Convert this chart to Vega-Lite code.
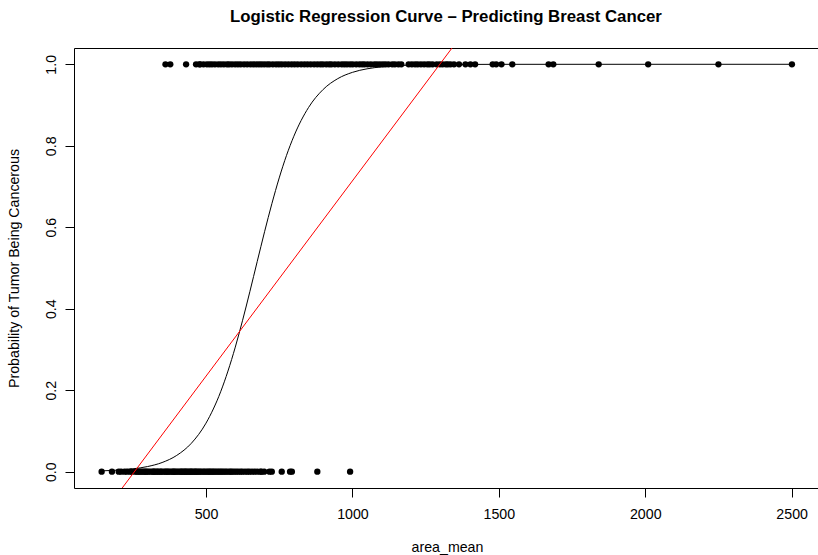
{
  "$schema": "https://vega.github.io/schema/vega-lite/v6.json",
  "width": 744,
  "height": 440,
  "autosize": "none",
  "padding": {"left": 74, "top": 48, "right": 0, "bottom": 67},
  "background": "white",
  "config": {
    "font": "Liberation Sans",
    "view": {"stroke": "black", "strokeWidth": 1}
  },
  "title": {
    "text": "Logistic Regression Curve – Predicting Breast Cancer",
    "fontSize": 16.8,
    "fontWeight": "bold",
    "color": "black",
    "anchor": "middle",
    "frame": "group",
    "baseline": "alphabetic",
    "offset": 9
  },
  "datasets": {
    "pts": [
      {"area_mean": 143.5, "p": 0}, {"area_mean": 178.8, "p": 0}, {"area_mean": 201.9, "p": 0},
      {"area_mean": 210.2, "p": 0}, {"area_mean": 221.8, "p": 0}, {"area_mean": 230.3, "p": 0}, {"area_mean": 241.0, "p": 0},
      {"area_mean": 246.3, "p": 0}, {"area_mean": 257.8, "p": 0}, {"area_mean": 264.0, "p": 0}, {"area_mean": 268.8, "p": 0},
      {"area_mean": 273.9, "p": 0}, {"area_mean": 278.6, "p": 0}, {"area_mean": 284.9, "p": 0}, {"area_mean": 289.7, "p": 0},
      {"area_mean": 294.5, "p": 0}, {"area_mean": 298.3, "p": 0}, {"area_mean": 304.1, "p": 0}, {"area_mean": 310.8, "p": 0},
      {"area_mean": 317.5, "p": 0}, {"area_mean": 321.4, "p": 0}, {"area_mean": 324.2, "p": 0}, {"area_mean": 329.6, "p": 0},
      {"area_mean": 334.2, "p": 0}, {"area_mean": 338.3, "p": 0}, {"area_mean": 344.9, "p": 0}, {"area_mean": 347.0, "p": 0},
      {"area_mean": 353.6, "p": 0}, {"area_mean": 359.9, "p": 0}, {"area_mean": 363.7, "p": 0}, {"area_mean": 368.5, "p": 0},
      {"area_mean": 372.7, "p": 0}, {"area_mean": 378.4, "p": 0}, {"area_mean": 384.8, "p": 0}, {"area_mean": 388.1, "p": 0},
      {"area_mean": 392.0, "p": 0}, {"area_mean": 396.6, "p": 0}, {"area_mean": 401.5, "p": 0}, {"area_mean": 407.4, "p": 0},
      {"area_mean": 412.6, "p": 0}, {"area_mean": 416.2, "p": 0}, {"area_mean": 420.3, "p": 0}, {"area_mean": 424.8, "p": 0},
      {"area_mean": 428.9, "p": 0}, {"area_mean": 432.0, "p": 0}, {"area_mean": 436.6, "p": 0}, {"area_mean": 441.3, "p": 0},
      {"area_mean": 446.0, "p": 0}, {"area_mean": 449.3, "p": 0}, {"area_mean": 453.1, "p": 0}, {"area_mean": 458.7, "p": 0},
      {"area_mean": 462.9, "p": 0}, {"area_mean": 466.1, "p": 0}, {"area_mean": 470.9, "p": 0}, {"area_mean": 475.9, "p": 0},
      {"area_mean": 480.4, "p": 0}, {"area_mean": 485.8, "p": 0}, {"area_mean": 491.9, "p": 0}, {"area_mean": 496.4, "p": 0},
      {"area_mean": 502.5, "p": 0}, {"area_mean": 507.2, "p": 0}, {"area_mean": 512.2, "p": 0}, {"area_mean": 516.4, "p": 0},
      {"area_mean": 521.5, "p": 0}, {"area_mean": 526.4, "p": 0}, {"area_mean": 531.5, "p": 0}, {"area_mean": 537.3, "p": 0},
      {"area_mean": 542.9, "p": 0}, {"area_mean": 548.2, "p": 0}, {"area_mean": 553.5, "p": 0}, {"area_mean": 559.2, "p": 0},
      {"area_mean": 565.4, "p": 0}, {"area_mean": 571.1, "p": 0}, {"area_mean": 578.3, "p": 0}, {"area_mean": 584.1, "p": 0},
      {"area_mean": 588.9, "p": 0}, {"area_mean": 595.9, "p": 0}, {"area_mean": 602.9, "p": 0}, {"area_mean": 609.9, "p": 0},
      {"area_mean": 617.8, "p": 0}, {"area_mean": 624.1, "p": 0}, {"area_mean": 633.0, "p": 0}, {"area_mean": 641.2, "p": 0},
      {"area_mean": 648.2, "p": 0}, {"area_mean": 657.1, "p": 0}, {"area_mean": 666.0, "p": 0}, {"area_mean": 674.5, "p": 0},
      {"area_mean": 685.0, "p": 0}, {"area_mean": 689.5, "p": 0}, {"area_mean": 698.8, "p": 0}, {"area_mean": 716.6, "p": 0},
      {"area_mean": 724.7, "p": 0}, {"area_mean": 758.6, "p": 0}, {"area_mean": 787.0, "p": 0}, {"area_mean": 793.2, "p": 0},
      {"area_mean": 880.2, "p": 0}, {"area_mean": 992.1, "p": 0},
      {"area_mean": 361.6, "p": 1}, {"area_mean": 378.0, "p": 1}, {"area_mean": 432.0, "p": 1}, {"area_mean": 466.0, "p": 1},
      {"area_mean": 477.1, "p": 1}, {"area_mean": 480.4, "p": 1}, {"area_mean": 491.5, "p": 1}, {"area_mean": 503.2, "p": 1},
      {"area_mean": 512.0, "p": 1}, {"area_mean": 520.5, "p": 1}, {"area_mean": 530.6, "p": 1}, {"area_mean": 541.8, "p": 1},
      {"area_mean": 551.1, "p": 1}, {"area_mean": 561.0, "p": 1}, {"area_mean": 571.8, "p": 1}, {"area_mean": 578.9, "p": 1},
      {"area_mean": 588.7, "p": 1}, {"area_mean": 599.5, "p": 1}, {"area_mean": 609.1, "p": 1}, {"area_mean": 618.4, "p": 1},
      {"area_mean": 629.9, "p": 1}, {"area_mean": 640.7, "p": 1}, {"area_mean": 651.9, "p": 1}, {"area_mean": 661.6, "p": 1},
      {"area_mean": 671.4, "p": 1}, {"area_mean": 680.7, "p": 1}, {"area_mean": 689.4, "p": 1}, {"area_mean": 698.8, "p": 1},
      {"area_mean": 708.8, "p": 1}, {"area_mean": 716.9, "p": 1}, {"area_mean": 728.2, "p": 1}, {"area_mean": 739.3, "p": 1},
      {"area_mean": 748.9, "p": 1}, {"area_mean": 758.6, "p": 1}, {"area_mean": 769.9, "p": 1}, {"area_mean": 781.0, "p": 1},
      {"area_mean": 792.3, "p": 1}, {"area_mean": 802.5, "p": 1}, {"area_mean": 813.0, "p": 1}, {"area_mean": 824.8, "p": 1},
      {"area_mean": 835.9, "p": 1}, {"area_mean": 846.5, "p": 1}, {"area_mean": 857.6, "p": 1}, {"area_mean": 869.3, "p": 1},
      {"area_mean": 880.2, "p": 1}, {"area_mean": 890.6, "p": 1}, {"area_mean": 899.3, "p": 1}, {"area_mean": 910.7, "p": 1},
      {"area_mean": 920.6, "p": 1}, {"area_mean": 928.3, "p": 1}, {"area_mean": 940.0, "p": 1}, {"area_mean": 951.6, "p": 1},
      {"area_mean": 963.7, "p": 1}, {"area_mean": 972.6, "p": 1}, {"area_mean": 981.6, "p": 1}, {"area_mean": 992.0, "p": 1},
      {"area_mean": 1001.0, "p": 1}, {"area_mean": 1013.0, "p": 1}, {"area_mean": 1024.0, "p": 1}, {"area_mean": 1033.0, "p": 1},
      {"area_mean": 1041.0, "p": 1}, {"area_mean": 1052.0, "p": 1}, {"area_mean": 1063.0, "p": 1}, {"area_mean": 1075.0, "p": 1},
      {"area_mean": 1084.0, "p": 1}, {"area_mean": 1094.0, "p": 1}, {"area_mean": 1104.0, "p": 1}, {"area_mean": 1113.0, "p": 1},
      {"area_mean": 1123.0, "p": 1}, {"area_mean": 1136.0, "p": 1}, {"area_mean": 1145.0, "p": 1}, {"area_mean": 1157.0, "p": 1},
      {"area_mean": 1167.0, "p": 1}, {"area_mean": 1192.0, "p": 1}, {"area_mean": 1203.0, "p": 1}, {"area_mean": 1214.0, "p": 1},
      {"area_mean": 1223.0, "p": 1}, {"area_mean": 1234.0, "p": 1}, {"area_mean": 1245.0, "p": 1}, {"area_mean": 1256.0, "p": 1},
      {"area_mean": 1264.0, "p": 1}, {"area_mean": 1274.0, "p": 1}, {"area_mean": 1288.0, "p": 1}, {"area_mean": 1299.0, "p": 1},
      {"area_mean": 1308.0, "p": 1}, {"area_mean": 1319.0, "p": 1}, {"area_mean": 1326.0, "p": 1}, {"area_mean": 1335.0, "p": 1},
      {"area_mean": 1347.0, "p": 1}, {"area_mean": 1364.0, "p": 1}, {"area_mean": 1386.0, "p": 1}, {"area_mean": 1403.0, "p": 1},
      {"area_mean": 1419.0, "p": 1}, {"area_mean": 1479.0, "p": 1}, {"area_mean": 1491.0, "p": 1}, {"area_mean": 1509.0, "p": 1},
      {"area_mean": 1546.0, "p": 1}, {"area_mean": 1670.0, "p": 1}, {"area_mean": 1686.0, "p": 1}, {"area_mean": 1841.0, "p": 1},
      {"area_mean": 2010.0, "p": 1}, {"area_mean": 2250.0, "p": 1}, {"area_mean": 2501.0, "p": 1}
    ],
    "curve": [
      {"area_mean": 143.5, "p": 0.002}, {"area_mean": 200, "p": 0.0039}, {"area_mean": 250, "p": 0.007},
      {"area_mean": 300, "p": 0.0126}, {"area_mean": 350, "p": 0.0225}, {"area_mean": 400, "p": 0.04},
      {"area_mean": 450, "p": 0.0698}, {"area_mean": 500, "p": 0.1192}, {"area_mean": 550, "p": 0.1962},
      {"area_mean": 575, "p": 0.247}, {"area_mean": 600, "p": 0.3058}, {"area_mean": 625, "p": 0.3717},
      {"area_mean": 650, "p": 0.4427}, {"area_mean": 675, "p": 0.5162}, {"area_mean": 700, "p": 0.589},
      {"area_mean": 725, "p": 0.658}, {"area_mean": 750, "p": 0.7211}, {"area_mean": 775, "p": 0.7765},
      {"area_mean": 800, "p": 0.8234}, {"area_mean": 850, "p": 0.8938}, {"area_mean": 900, "p": 0.9382},
      {"area_mean": 950, "p": 0.9648}, {"area_mean": 1000, "p": 0.9802}, {"area_mean": 1050, "p": 0.9889},
      {"area_mean": 1100, "p": 0.9938}, {"area_mean": 1200, "p": 0.9981}, {"area_mean": 1300, "p": 0.9994},
      {"area_mean": 1500, "p": 0.99994}, {"area_mean": 2000, "p": 1.0}, {"area_mean": 2501, "p": 1.0}
    ],
    "lm": [
      {"area_mean": 0, "p": -0.245}, {"area_mean": 2700, "p": 2.344}
    ]
  },
  "encoding": {
    "x": {
      "field": "area_mean", "type": "quantitative",
      "scale": {"domain": [49.2, 2590], "nice": false, "zero": false},
      "axis": {
        "title": "area_mean", "values": [500, 1000, 1500, 2000, 2500], "format": "d",
        "grid": false, "domain": false, "tickColor": "black", "tickSize": 9, "tickWidth": 1,
        "labelFontSize": 14.2, "labelColor": "black", "labelPadding": 10, "labelBaseline": "top",
        "labelFlush": false, "labelOverlap": false,
        "titleFontSize": 14.2, "titleFontWeight": "normal", "titleColor": "black",
        "titleX": 373, "titleY": 63, "titleBaseline": "alphabetic", "titleAlign": "center"
      }
    },
    "y": {
      "field": "p", "type": "quantitative",
      "scale": {"domain": [-0.04, 1.04], "nice": false, "zero": false},
      "axis": {
        "title": "Probability of Tumor Being Cancerous", "values": [0, 0.2, 0.4, 0.6, 0.8, 1.0], "format": ".1f",
        "grid": false, "domain": false, "tickColor": "black", "tickSize": 9, "tickWidth": 1,
        "labelFontSize": 14.2, "labelColor": "black", "labelPadding": 10, "labelAngle": -90,
        "labelAlign": "center", "labelBaseline": "alphabetic", "labelFlush": false, "labelOverlap": false,
        "titleFontSize": 14.2, "titleFontWeight": "normal", "titleColor": "black",
        "titleX": -56, "titleY": 220, "titleAngle": -90, "titleBaseline": "alphabetic", "titleAlign": "center"
      }
    }
  },
  "layer": [
    {
      "data": {"name": "pts"},
      "mark": {"type": "circle", "color": "black", "size": 40, "opacity": 1}
    },
    {
      "data": {"name": "curve"},
      "mark": {"type": "line", "color": "black", "strokeWidth": 1, "interpolate": "monotone"}
    },
    {
      "data": {"name": "lm"},
      "mark": {"type": "line", "color": "#ff0000", "strokeWidth": 1, "clip": true}
    }
  ]
}
